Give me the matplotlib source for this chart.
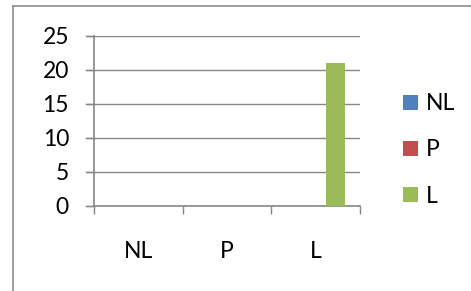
import matplotlib
matplotlib.use("Agg")
import matplotlib.pyplot as plt
from matplotlib.lines import Line2D
from matplotlib.patches import Patch
import numpy as np

categories = ["NL", "P", "L"]
series_names = ["NL", "P", "L"]
values_nl = [0, 0, 0]
values_p = [0, 0, 0]
values_l = [0, 0, 21]
colors = ["#4F81BD", "#C0504D", "#9BBB59"]
yticks = [0, 5, 10, 15, 20, 25]

plt.rcParams["font.family"] = ["Lato", "DejaVu Sans"]
grey = "#878787"
fs = 16.5

fig = plt.figure(figsize=(4.71, 2.91), dpi=100)
ax = fig.add_axes([94 / 471, 1 - 206 / 291, 266 / 471, 170 / 291])

x = np.arange(len(categories))
w = 1 / 4.5
for i, (vals, c) in enumerate(zip([values_nl, values_p, values_l], colors)):
    ax.bar(x + (i - 1) * w, vals, width=w, color=c, linewidth=0, zorder=3)

ax.set_xlim(-0.5, len(categories) - 0.5)
ax.set_ylim(0, 25)
ax.set_yticks(yticks)
ax.yaxis.grid(True, color=grey, linewidth=1.0, zorder=0)
ax.tick_params(axis="y", length=6, width=1, color=grey, pad=12, labelsize=fs)

# tick marks at category borders, labels at centers
ax.set_xticks(np.arange(len(categories) + 1) - 0.5)
ax.set_xticklabels([])
ax.set_xticks(x, minor=True)
ax.set_xticklabels(categories, minor=True)
ax.tick_params(axis="x", which="major", length=6, width=1, color=grey)
ax.tick_params(axis="x", which="minor", length=0, pad=25, labelsize=fs)

for s in ["top", "right"]:
    ax.spines[s].set_visible(False)
for s in ["left", "bottom"]:
    ax.spines[s].set_color(grey)
    ax.spines[s].set_linewidth(1.2)

# gridlines reach a bit left of the axis, like Excel
for yv in yticks:
    ax.plot([-0.5 - 8 / 266 * 3, -0.5], [yv, yv], color=grey, lw=1.0, clip_on=False)

handles = [Patch(facecolor=c, edgecolor="none") for c in colors]
fig.legend(handles, series_names, loc="center left",
           bbox_to_anchor=(403 / 471, 1 - 150 / 291), frameon=False,
           fontsize=fs, borderpad=0, borderaxespad=0, handlelength=0.66,
           handleheight=0.66, handletextpad=0.32, labelspacing=1.1)

# chart area border
fig.add_artist(Line2D([13 / 471, 13 / 471], [0, 1 - 6 / 291], color="#8c8c8c", lw=1.2))
fig.add_artist(Line2D([13 / 471, 1], [1 - 6 / 291, 1 - 6 / 291], color="#8c8c8c", lw=1.2))

fig.savefig("out.png", dpi=100)
